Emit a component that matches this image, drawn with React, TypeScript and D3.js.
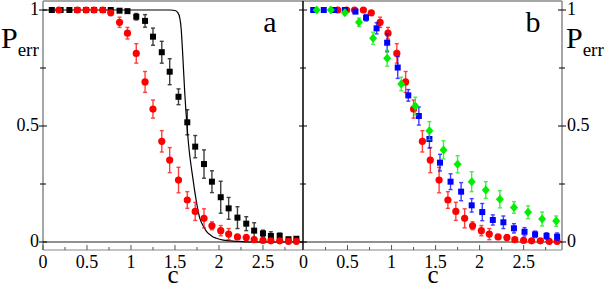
import React from 'react'
import * as d3 from 'd3'

// panel a: black squares
const blackC = [0.10, 0.20, 0.30, 0.39, 0.49, 0.58, 0.68, 0.77, 0.87, 0.96, 1.06, 1.16, 1.25, 1.35, 1.44, 1.54, 1.64, 1.73, 1.83, 1.92, 2.02, 2.11, 2.21, 2.31, 2.40, 2.50, 2.59, 2.69, 2.79, 2.88]
const blackP = [1, 1, 1, 1, 1, 1, 1, 1, 0.997, 0.995, 0.971, 0.953, 0.885, 0.818, 0.734, 0.626, 0.516, 0.411, 0.336, 0.26, 0.193, 0.145, 0.105, 0.079, 0.049, 0.037, 0.026, 0.027, 0.012, 0.014]
const blackErr = [0, 0, 0, 0, 0, 0, 0, 0.003, 0.005, 0.005, 0.014, 0.027, 0.037, 0.047, 0.056, 0.034, 0.054, 0.048, 0.061, 0.047, 0.069, 0.047, 0.047, 0.030, 0.034, 0.014, 0.018, 0.011, 0.006, 0.009]

// red circles (both panels; the first point only shows in panel a)
const redC = [0.18, 0.39, 0.49, 0.58, 0.68, 0.77, 0.87, 0.96, 1.06, 1.16, 1.25, 1.35, 1.44, 1.54, 1.64, 1.73, 1.83, 1.92, 2.02, 2.11, 2.21, 2.31, 2.40, 2.50, 2.59, 2.69, 2.79, 2.88]
const redP = [1, 1, 1, 1, 1, 0.988, 0.947, 0.90, 0.813, 0.69, 0.573, 0.434, 0.353, 0.267, 0.181, 0.132, 0.102, 0.070, 0.049, 0.034, 0.022, 0.019, 0.010, 0.007, 0.005, 0.005, 0.003, 0.003]
const redErr = [0, 0, 0, 0, 0, 0.006, 0.022, 0.025, 0.042, 0.045, 0.039, 0.046, 0.054, 0.055, 0.036, 0.039, 0.041, 0.017, 0.022, 0.024, 0.009, 0.013, 0.006, 0.005, 0.004, 0.004, 0.003, 0.003]

// theory curve, panel a
const curveC = [0, 1.45, 1.50, 1.53, 1.555, 1.57, 1.585, 1.61, 1.635, 1.66, 1.69, 1.72, 1.75, 1.78, 1.82, 1.86, 1.92, 1.97, 2.05, 2.2, 2.35, 2.95]
const curveP = [1, 1, 0.998, 0.99, 0.965, 0.92, 0.83, 0.65, 0.51, 0.40, 0.31, 0.23, 0.16, 0.105, 0.07, 0.045, 0.025, 0.016, 0.008, 0.003, 0, 0]

// panel b
const blueC = [0.11, 0.23, 0.35, 0.47, 0.59, 0.71, 0.83, 0.95, 1.07, 1.19, 1.31, 1.43, 1.55, 1.67, 1.79, 1.91, 2.03, 2.15, 2.27, 2.39, 2.51, 2.63, 2.76, 2.88]
const blueP = [1, 1, 1, 1, 0.993, 0.967, 0.921, 0.859, 0.752, 0.632, 0.543, 0.444, 0.342, 0.26, 0.217, 0.158, 0.129, 0.095, 0.085, 0.059, 0.044, 0.033, 0.026, 0.023]
const blueErr = [0, 0, 0, 0, 0.006, 0.014, 0.024, 0.039, 0.047, 0.025, 0.039, 0.039, 0.036, 0.034, 0.039, 0.029, 0.037, 0.022, 0.027, 0.02, 0.018, 0.014, 0.014, 0.016]

const greenC = [0.15, 0.31, 0.47, 0.63, 0.79, 0.95, 1.11, 1.27, 1.43, 1.59, 1.75, 1.91, 2.07, 2.23, 2.39, 2.55, 2.71, 2.87]
const greenP = [1, 1, 0.988, 0.947, 0.878, 0.792, 0.681, 0.586, 0.48, 0.397, 0.335, 0.26, 0.224, 0.184, 0.149, 0.128, 0.099, 0.09]
const greenErr = [0, 0, 0.006, 0.018, 0.026, 0.034, 0.029, 0.038, 0.039, 0.039, 0.037, 0.043, 0.036, 0.037, 0.025, 0.028, 0.03, 0.022]

const xMajor = [0, 0.5, 1, 1.5, 2, 2.5]
const xLabels = ['0', '0.5', '1', '1.5', '2', '2.5']
const xMinor = [0.25, 0.75, 1.25, 1.75, 2.25, 2.75]
const yMajor = [0, 0.5, 1]
const yLabels = ['0', '0.5', '1']
const yMinor = [0.25, 0.75]

const W = 606
const H = 289
const serif = '"Liberation Serif", "DejaVu Serif", "Noto Serif", "Times New Roman", Times, FreeSerif, serif'

const y = d3.scaleLinear().domain([0, 1]).range([242, 10])
const xA = d3.scaleLinear().domain([0, 2.955]).range([43, 303])
const xB = d3.scaleLinear().domain([0, 2.93]).range([303.5, 561.5])

const frameTop = 1
const frameBottom = 250

function ErrBars({x, c, p, e, color}) {
    return <g stroke={color} strokeWidth={1.4} opacity={0.75}>
        {c.map((cv, i) => {
            if (!e[i]) return null
            const cx = x(cv)
            const y1 = y(p[i] + e[i])
            const y2 = y(p[i] - e[i])
            return <g key={i}>
                <line x1={cx} x2={cx} y1={y1} y2={y2}/>
                <line x1={cx - 2} x2={cx + 2} y1={y1} y2={y1}/>
                <line x1={cx - 2} x2={cx + 2} y1={y2} y2={y2}/>
            </g>
        })}
    </g>
}

function Squares({x, c, p, color}) {
    return <g fill={color}>
        {c.map((cv, i) => <rect key={i} x={x(cv) - 3} y={y(p[i]) - 3} width={6} height={6}/>)}
    </g>
}

function Circles({x, c, p, color}) {
    return <g fill={color}>
        {c.map((cv, i) => <circle key={i} cx={x(cv)} cy={y(p[i])} r={3.6}/>)}
    </g>
}

function Diamonds({x, c, p, color}) {
    return <g fill={color}>
        {c.map((cv, i) => {
            const cx = x(cv), cy = y(p[i])
            return <path key={i} d={`M${cx},${cy - 4.5}L${cx + 4},${cy}L${cx},${cy + 4.5}L${cx - 4},${cy}Z`}/>
        })}
    </g>
}

function XAxis({x}) {
    return <g>
        {xMinor.map(v => <line key={'m' + v} x1={x(v)} x2={x(v)} y1={frameBottom} y2={frameBottom - 3} stroke="#555"/>)}
        {xMajor.map(v => <line key={'M' + v} x1={x(v)} x2={x(v)} y1={frameBottom} y2={frameBottom - 5} stroke="#555"/>)}
        {xMajor.map((v, i) =>
            <text key={'t' + v} x={x(v)} y={268} textAnchor="middle" fontSize={18}>{xLabels[i]}</text>)}
    </g>
}

function YTicks({x0, x1}) {
    return <g stroke="#000">
        {yMajor.map(v => <line key={'M' + v} x1={x0} x2={x1} y1={y(v)} y2={y(v)}/>)}
        {yMinor.map(v => <line key={'m' + v} x1={x0 + 1} x2={x1 - 1} y1={y(v)} y2={y(v)}/>)}
    </g>
}

export default function App() {
    const curveLine = d3.line<number>()
        .x((d, i) => xA(curveC[i]))
        .y((d, i) => y(curveP[i]))
        .curve(d3.curveMonotoneX)

    return <svg width={W} height={H} fontFamily={serif} style={{position: 'absolute', left: 0, top: 0, background: '#fff'}}>
        {/* frame */}
        <line x1={43} x2={562} y1={frameTop} y2={frameTop} stroke="#888" strokeWidth={1.5}/>
        <line x1={43} x2={562} y1={frameBottom} y2={frameBottom} stroke="#888" strokeWidth={1.2}/>
        <line x1={43} x2={43} y1={frameTop} y2={frameBottom} stroke="#888" strokeWidth={1.5}/>
        <line x1={562} x2={562} y1={frameTop} y2={frameBottom} stroke="#888" strokeWidth={1.5}/>
        <line x1={303} x2={303} y1={frameTop} y2={frameBottom} stroke="#000" strokeWidth={1.5}/>
        <line x1={43} x2={562} y1={y(0)} y2={y(0)} stroke="#222" strokeWidth={1.2}/>

        <YTicks x0={39} x1={47}/>
        <YTicks x0={299} x1={307}/>
        <YTicks x0={558} x1={566}/>

        <XAxis x={xA}/>
        <XAxis x={xB}/>

        {/* y tick labels */}
        {yMajor.map((v, i) => <text key={'l' + v} x={39} y={y(v) + 5} textAnchor="end" fontSize={18}>{yLabels[i]}</text>)}
        {yMajor.map((v, i) => <text key={'r' + v} x={567} y={y(v) + 5} textAnchor="start" fontSize={18}>{yLabels[i]}</text>)}

        {/* panel a */}
        <path d={curveLine(curveC) || ''} fill="none" stroke="#000" strokeWidth={1.2}/>
        <ErrBars x={xA} c={blackC} p={blackP} e={blackErr} color="#000"/>
        <Squares x={xA} c={blackC} p={blackP} color="#000"/>
        <ErrBars x={xA} c={redC} p={redP} e={redErr} color="#ff0000"/>
        <Circles x={xA} c={redC} p={redP} color="#ff0000"/>

        {/* panel b */}
        <ErrBars x={xB} c={redC.slice(1)} p={redP.slice(1)} e={redErr.slice(1)} color="#ff0000"/>
        <Circles x={xB} c={redC.slice(1)} p={redP.slice(1)} color="#ff0000"/>
        <ErrBars x={xB} c={blueC} p={blueP} e={blueErr} color="#0000ff"/>
        <Squares x={xB} c={blueC} p={blueP} color="#0000ff"/>
        <ErrBars x={xB} c={greenC} p={greenP} e={greenErr} color="#00ee00"/>
        <Diamonds x={xB} c={greenC} p={greenP} color="#00ee00"/>

        {/* labels */}
        <text x={270} y={32} textAnchor="middle" fontSize={30}>a</text>
        <text x={533} y={32} textAnchor="middle" fontSize={30}>b</text>
        <text x={173} y={283} textAnchor="middle" fontSize={25}>c</text>
        <text x={433} y={283} textAnchor="middle" fontSize={25}>c</text>
        <text x={1} y={48}>
            <tspan fontSize={30}>P</tspan><tspan fontSize={19} dy={8}>err</tspan>
        </text>
        <text x={566} y={48}>
            <tspan fontSize={30}>P</tspan><tspan fontSize={19} dy={8}>err</tspan>
        </text>
    </svg>
}
